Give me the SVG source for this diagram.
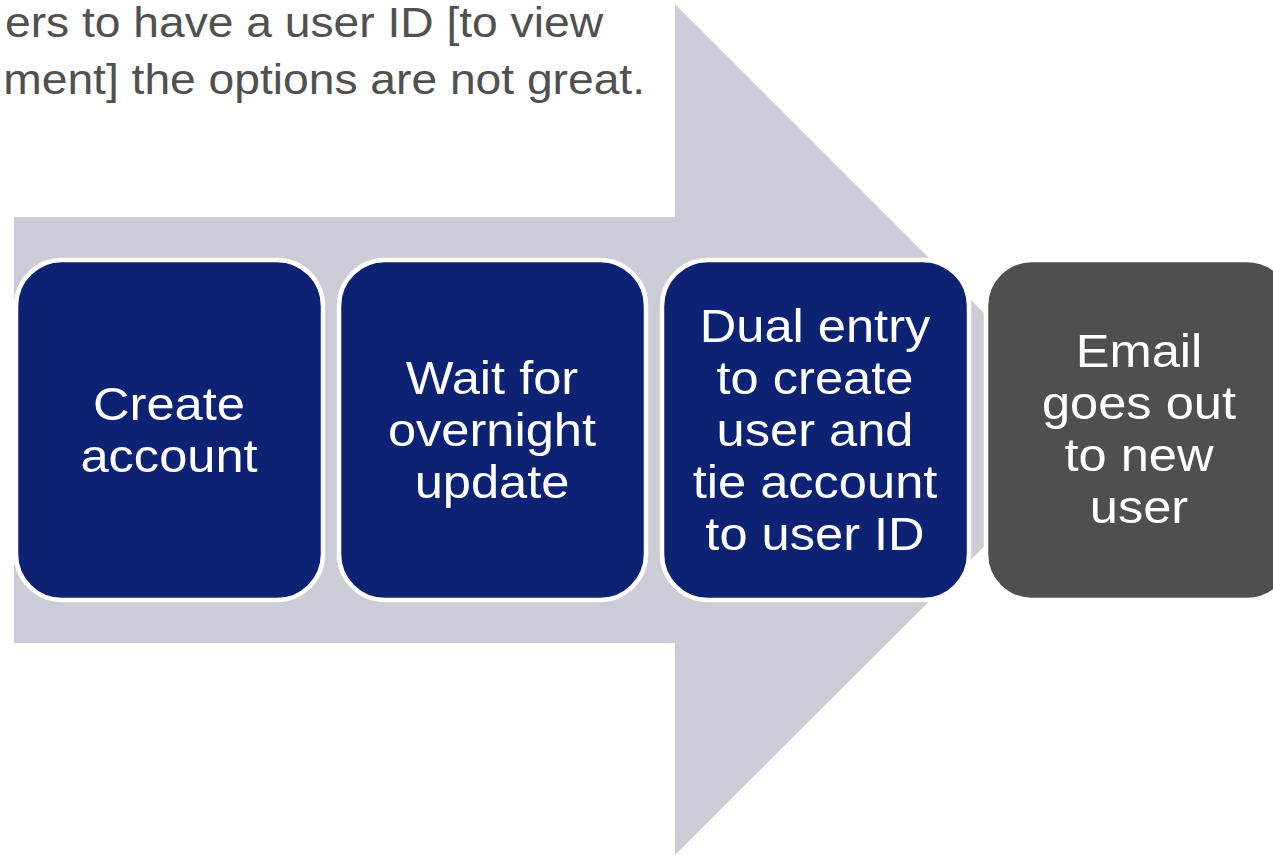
<svg xmlns="http://www.w3.org/2000/svg" width="1273" height="855" viewBox="0 0 1273 855">
<style>
.box{stroke:#ffffff;stroke-width:4.5}
.blue{fill:#0e2274}
.dark{fill:#4f4f4f}
.lbl{font-family:"Liberation Sans",Arial,sans-serif;font-size:46px;fill:#ffffff;text-anchor:middle}
.note{font-family:"Liberation Sans",Arial,sans-serif;font-size:42px;fill:#505050;text-anchor:end}
</style>
<rect width="1273" height="855" fill="#ffffff"/>
<g id="note">
<g transform="translate(603 0) scale(1.1 1)"><text class="note" x="0" y="37">ers to have a user ID [to view</text></g>
<g transform="translate(645 0) scale(1.1 1)"><text class="note" x="0" y="94">ment] the options are not great.</text></g>
</g>
<g id="arrow">
<polygon points="14,217 675,217 675,4 1101,430 675,855 675,643 14,643" fill="#cbccd6"/>
</g>
<g id="connectors"></g>
<g id="step1">
<rect class="box blue" x="16" y="260" width="307" height="340" rx="46" ry="46"/>
<g transform="translate(169 0) scale(1.1 1)">
<text class="lbl" x="0" y="420">Create</text>
<text class="lbl" x="0" y="472">account</text>
</g>
</g>
<g id="step2">
<rect class="box blue" x="339" y="260" width="307" height="340" rx="46" ry="46"/>
<g transform="translate(492 0) scale(1.1 1)">
<text class="lbl" x="0" y="394">Wait for</text>
<text class="lbl" x="0" y="446">overnight</text>
<text class="lbl" x="0" y="498">update</text>
</g>
</g>
<g id="step3">
<rect class="box blue" x="662" y="260" width="307" height="340" rx="46" ry="46"/>
<g transform="translate(815 0) scale(1.1 1)">
<text class="lbl" x="0" y="342">Dual entry</text>
<text class="lbl" x="0" y="394">to create</text>
<text class="lbl" x="0" y="446">user and</text>
<text class="lbl" x="0" y="498">tie account</text>
<text class="lbl" x="0" y="550">to user ID</text>
</g>
</g>
<g id="step4">
<rect class="box dark" x="986" y="260" width="307" height="340" rx="46" ry="46"/>
<g transform="translate(1139 0) scale(1.1 1)">
<text class="lbl" x="0" y="367">Email</text>
<text class="lbl" x="0" y="419">goes out</text>
<text class="lbl" x="0" y="471">to new</text>
<text class="lbl" x="0" y="523">user</text>
</g>
</g>
</svg>
